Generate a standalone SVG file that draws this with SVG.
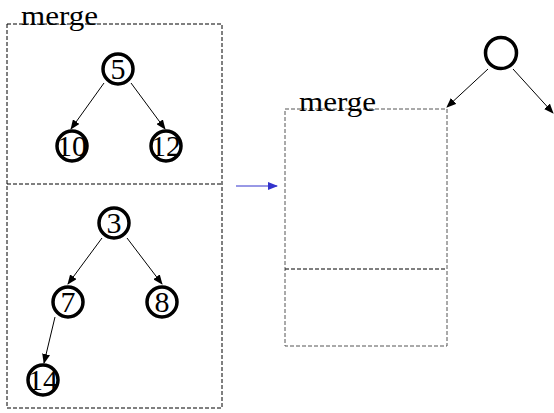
<svg xmlns="http://www.w3.org/2000/svg" width="554" height="413" viewBox="0 0 554 413">
<defs>
<style>
.box{fill:none;stroke:#000;stroke-width:1;stroke-dasharray:4,2}
.box2{fill:none;stroke:#555;stroke-width:1;stroke-dasharray:4,2}
.node{fill:#fff;stroke:#000;stroke-width:3.5}
.t{font-family:"Liberation Serif","Times New Roman",serif;font-size:27px;fill:#000}
.num{text-anchor:middle;font-size:30px}
.edge{stroke:#000;stroke-width:1;fill:none;marker-end:url(#ah)}
.blue{stroke:#3333cc;stroke-width:1;fill:none;marker-end:url(#ab)}
</style>
<marker id="ah" markerWidth="10" markerHeight="8" refX="9" refY="4" orient="auto" markerUnits="userSpaceOnUse">
<path d="M0,0 L10,4 L0,8 Z" fill="#000"/>
</marker>
<marker id="ab" markerWidth="10" markerHeight="8" refX="9" refY="4" orient="auto" markerUnits="userSpaceOnUse">
<path d="M0,0 L10,4 L0,8 Z" fill="#3333cc"/>
</marker>
</defs>
<rect width="554" height="413" fill="#fff"/>
<g id="leftbox">
<rect class="box" x="7" y="24" width="215" height="384"/>
<line class="box" x1="7" y1="184" x2="222" y2="184"/>
<text class="t" x="21" y="24.5" textLength="77" lengthAdjust="spacingAndGlyphs">merge</text>
</g>
<g id="rightbox">
<rect class="box2" x="285" y="109" width="162" height="237"/>
<line class="box" x1="285" y1="269" x2="447" y2="269"/>
<text class="t" x="299" y="111" textLength="77" lengthAdjust="spacingAndGlyphs">merge</text>
</g>
<g id="connectors">
<line class="edge" x1="104" y1="83" x2="71" y2="129"/>
<line class="edge" x1="131" y1="83" x2="165" y2="129"/>
<line class="edge" x1="102" y1="238" x2="68" y2="284"/>
<line class="edge" x1="127" y1="238" x2="162" y2="284"/>
<line class="edge" x1="55" y1="317" x2="44" y2="363"/>
<line class="edge" x1="488" y1="69" x2="447" y2="107"/>
<line class="edge" x1="513" y1="69" x2="553" y2="113"/>
<line class="blue" x1="236" y1="186" x2="277" y2="186"/>
</g>
<g id="n5"><circle class="node" cx="118" cy="69" r="15"/><text class="t num" x="118" y="79">5</text></g>
<g id="n10"><circle class="node" cx="72" cy="146" r="15"/><text class="t num" x="72" y="156">10</text></g>
<g id="n12"><circle class="node" cx="166" cy="146" r="15"/><text class="t num" x="166" y="156">12</text></g>
<g id="n3"><circle class="node" cx="114" cy="223" r="15"/><text class="t num" x="114" y="233">3</text></g>
<g id="n7"><circle class="node" cx="68" cy="302" r="15"/><text class="t num" x="68" y="312">7</text></g>
<g id="n8"><circle class="node" cx="162" cy="302" r="15"/><text class="t num" x="162" y="312">8</text></g>
<g id="n14"><circle class="node" cx="43" cy="380" r="15"/><text class="t num" x="43" y="390">14</text></g>
<g id="nroot"><circle class="node" cx="501" cy="53" r="15.5"/></g>
</svg>
